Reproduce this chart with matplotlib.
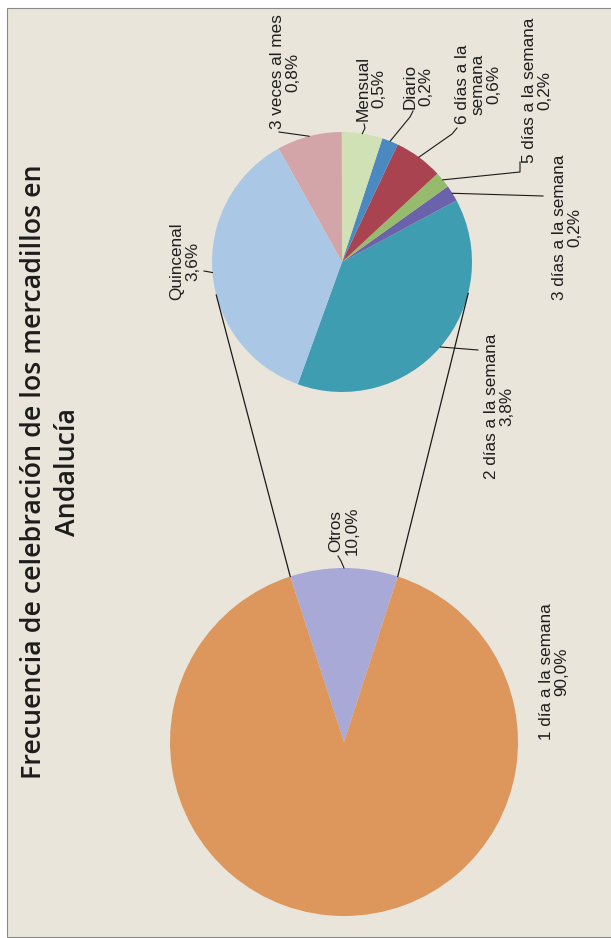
import matplotlib.pyplot as plt
import matplotlib.patches as mpatches
import numpy as np

W, H = 611, 938

title = "Frecuencia de celebración de los mercadillos en\nAndalucía"

main_labels = ["Otros", "1 día a la semana"]
main_values = [10.0, 90.0]
main_colors = ["#a9a9d8", "#dd965c"]

sub_labels = ["2 días a la semana", "3 días a la semana", "5 días a la semana",
              "6 días a la\nsemana", "Diario", "Mensual", "3 veces al mes", "Quincenal"]
sub_values = [3.8, 0.2, 0.2, 0.6, 0.2, 0.5, 0.8, 3.6]
sub_colors = ["#3f9db2", "#6a62aa", "#97bb6c", "#a8434f", "#4a8ac0",
              "#cfe1b5", "#d4a5a8", "#aac8e6"]

# label centres and leader anchors, in picture pixels (y from the top)
main_pos = {"Otros": (344, 531), "1 día a la semana": (554, 672)}
main_lead = {"Otros": [(338, 556), (341, 561)]}
sub_pos = {"2 días a la semana": (499, 406), "3 días a la semana": (567, 227),
           "5 días a la semana": (537, 90), "6 días a la\nsemana": (478, 84),
           "Diario": (418, 86), "Mensual": (371, 88), "3 veces al mes": (285, 72),
           "Quincenal": (185, 261)}
sub_lead = {"2 días a la semana": [(478, 350)], "3 días a la semana": [(543, 196)],
            "5 días a la semana": [(520, 162), (520, 172)],
            "6 días a la\nsemana": [(457, 128), (452, 134)],
            "Diario": [(413, 111), (410, 117)], "Mensual": [(364, 124), (365, 128)],
            "3 veces al mes": [(279, 132)], "Quincenal": [(204, 271)]}


def pct(v):
    return f"{v:.1f}".replace(".", ",") + "%"


def flip(p):
    return (p[0], H - p[1])


fig = plt.figure(figsize=(W / 100, H / 100), dpi=100, facecolor="white")
ax = fig.add_axes([0, 0, 1, 1])

# paper panel
ax.add_patch(mpatches.Rectangle((7, 1), W, H - 9, facecolor="#e9e5da",
                                edgecolor="#8a8a86", lw=0.8, zorder=0))

big_c = (344, H - 742)
big_r = 174
small_c = (342, H - 262)
small_r = 130

bw, _ = ax.pie(main_values, colors=main_colors, startangle=72, counterclock=True,
               center=big_c, radius=big_r, wedgeprops=dict(linewidth=0))
sw, _ = ax.pie(sub_values, colors=sub_colors, startangle=250.1, counterclock=True,
               center=small_c, radius=small_r, wedgeprops=dict(linewidth=0))


def edge_point(c, r, ang):
    a = np.radians(ang)
    return c[0] + r * np.cos(a), c[1] + r * np.sin(a)


# connector lines: from Otros wedge corners, tangent to the second pie
ow = bw[0]
for ang, side in [(ow.theta1, 1), (ow.theta2, -1)]:
    px, py = edge_point(big_c, big_r, ang)
    dx, dy = px - small_c[0], py - small_c[1]
    d = np.hypot(dx, dy)
    base = np.degrees(np.arctan2(dy, dx))
    t = base + side * np.degrees(np.arccos(small_r / d))
    tx, ty = edge_point(small_c, small_r, t)
    ax.plot([px, tx], [py, ty], color="#1a1a1a", lw=0.9, zorder=3)

lab_font = dict(family=["Liberation Sans", "DejaVu Sans"], size=12.3, color="#1e1e1e")


def put_labels(wedges, labels, values, c, r, pos, lead):
    for w, lab, v in zip(wedges, labels, values):
        x, y = flip(pos[lab])
        ax.text(x, y, lab + "\n" + pct(v), rotation=90, ha="center", va="center",
                multialignment="center", linespacing=1.05, zorder=4, **lab_font)
        if lab in lead:
            mid = (w.theta1 + w.theta2) / 2
            pts = [flip(p) for p in lead[lab]] + [edge_point(c, r, mid)]
            xs, ys = zip(*pts)
            ax.plot(xs, ys, color="#1a1a1a", lw=0.8, zorder=3)


put_labels(bw, main_labels, main_values, big_c, big_r, main_pos, main_lead)
put_labels(sw, sub_labels, sub_values, small_c, small_r, sub_pos, sub_lead)

tx, ty = flip((51, 472))
ax.text(tx, ty, title, rotation=90, ha="center", va="center", multialignment="center",
        family=["Open Sans", "DejaVu Sans"], fontweight="semibold", size=19.3,
        color="#1c1c1c", linespacing=1.32, zorder=4)

ax.set_xlim(0, W)
ax.set_ylim(0, H)
ax.set_aspect("equal")
ax.axis("off")

fig.savefig("out.png", dpi=100, facecolor="white")
